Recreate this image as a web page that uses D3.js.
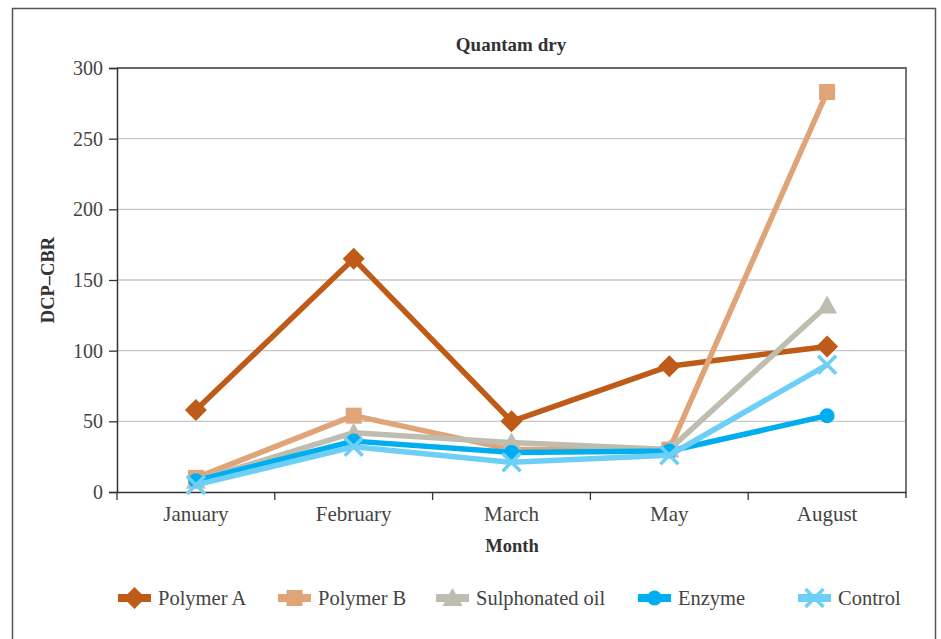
<!DOCTYPE html>
<html>
<head>
<meta charset="utf-8">
<script src="https://cdn.jsdelivr.net/npm/d3@7"></script>
<style>
  body { margin: 0; background: #fff; }
  text { font-family: "Liberation Serif", "DejaVu Serif", serif; }
</style>
</head>
<body>
<svg width="941" height="639"></svg>
<script>
var months = ["January", "February", "March", "May", "August"];
var seriesNames = ["Polymer A", "Polymer B", "Sulphonated oil", "Enzyme", "Control"];
var polymerA = [58, 165, 50, 89, 103];
var polymerB = [10, 54, 30, 30, 283];
var sulphonated = [8, 42, 35, 30, 132];
var enzyme = [8, 36, 28, 29, 54];
var control = [5, 32, 21, 26, 90];
var yTicks = [0, 50, 100, 150, 200, 250, 300];

var colors = ["#bf5b18", "#dfa477", "#bfbdb0", "#00aeef", "#6dcff6"];
var symbols = ["diamond", "square", "triangle", "circle", "cross"];

var svg = d3.select("svg"),
    margin = {top: 68, right: 35, bottom: 147, left: 117},
    width = 941 - margin.left - margin.right,
    height = 639 - margin.top - margin.bottom;

// outer frame
svg.append("rect")
  .attr("x", 12.5).attr("y", 8.5)
  .attr("width", 923).attr("height", 650)
  .attr("fill", "none").attr("stroke", "#555").attr("stroke-width", 1.5);

var g = svg.append("g").attr("transform", "translate(" + margin.left + "," + margin.top + ")");

var x = d3.scaleBand().domain(months).range([0, width]);
var y = d3.scaleLinear().domain([0, 300]).range([height, 0]);

// grid
g.selectAll(".grid").data(yTicks.slice(1, -1)).enter().append("line")
  .attr("x1", 0).attr("x2", width)
  .attr("y1", d => y(d)).attr("y2", d => y(d))
  .attr("stroke", "#c6c6c6").attr("stroke-width", 1.3);

// top and right border
g.append("path")
  .attr("d", "M0," + y(300) + "H" + width + "V" + (height + 6))
  .attr("fill", "none").attr("stroke", "#666").attr("stroke-width", 1.8);

// y axis
var yAxis = g.append("g")
  .call(d3.axisLeft(y).tickValues(yTicks).tickSize(8).tickPadding(6));
yAxis.select(".domain").attr("stroke", "#333").attr("stroke-width", 1.5);
yAxis.selectAll(".tick line").attr("stroke", "#333").attr("stroke-width", 1.3);
yAxis.selectAll("text")
  .style("font-family", "'Liberation Serif', serif")
  .style("font-size", "20px").attr("fill", "#444");

// x axis
var xAxis = g.append("g").attr("transform", "translate(0," + height + ")")
  .call(d3.axisBottom(x).tickSize(0).tickPadding(14));
xAxis.select(".domain").attr("stroke", "#333").attr("stroke-width", 1.5);
xAxis.selectAll("text")
  .style("font-family", "'Liberation Serif', serif")
  .style("font-size", "21px").attr("fill", "#444");
var bounds = months.map(m => x(m)).concat([width]);
g.selectAll(".xtick").data(bounds.slice(0, -1)).enter().append("line")
  .attr("x1", d => d).attr("x2", d => d)
  .attr("y1", height).attr("y2", height + 8)
  .attr("stroke", "#333").attr("stroke-width", 1.3);

// titles
svg.append("text").attr("x", 511).attr("y", 51)
  .attr("text-anchor", "middle").attr("font-weight", "bold")
  .attr("font-size", 19).attr("fill", "#333").text("Quantam dry");
svg.append("text").attr("transform", "translate(54,280) rotate(-90)")
  .attr("text-anchor", "middle").attr("font-weight", "bold")
  .attr("font-size", 18.5).attr("fill", "#333").text("DCP–CBR");
svg.append("text").attr("x", 512).attr("y", 552)
  .attr("text-anchor", "middle").attr("font-weight", "bold")
  .attr("font-size", 18.5).attr("fill", "#333").text("Month");

var allSeries = [polymerA, polymerB, sulphonated, enzyme, control];
var line = d3.line().x((d, i) => x(months[i]) + x.bandwidth() / 2).y(d => y(d));

function marker(sel, k, cx, cy) {
  var c = colors[k];
  if (symbols[k] == "diamond") {
    sel.append("path").attr("d", "M" + cx + "," + (cy - 11) + "L" + (cx + 11) + "," + cy + "L" + cx + "," + (cy + 11) + "L" + (cx - 11) + "," + cy + "Z").attr("fill", c);
  } else if (symbols[k] == "square") {
    sel.append("rect").attr("x", cx - 8).attr("y", cy - 8).attr("width", 16).attr("height", 16).attr("fill", c);
  } else if (symbols[k] == "triangle") {
    sel.append("path").attr("d", "M" + cx + "," + (cy - 10) + "L" + (cx + 10) + "," + (cy + 8) + "L" + (cx - 10) + "," + (cy + 8) + "Z").attr("fill", c);
  } else if (symbols[k] == "circle") {
    sel.append("circle").attr("cx", cx).attr("cy", cy).attr("r", 7.5).attr("fill", c);
  } else {
    sel.append("path").attr("d", "M" + (cx - 9) + "," + (cy - 9) + "L" + (cx + 9) + "," + (cy + 9) + "M" + (cx + 9) + "," + (cy - 9) + "L" + (cx - 9) + "," + (cy + 9))
      .attr("stroke", c).attr("stroke-width", 3.5).attr("fill", "none");
  }
}

allSeries.forEach(function(vals, k) {
  var sg = g.append("g");
  sg.append("path").datum(vals).attr("d", line)
    .attr("fill", "none").attr("stroke", colors[k]).attr("stroke-width", 5.5)
    .attr("stroke-linejoin", "round");
  vals.forEach(function(v, i) {
    marker(sg, k, x(months[i]) + x.bandwidth() / 2, y(v));
  });
});

// legend
var legendX = [118, 278, 436, 638, 798];
var leg = svg.append("g").attr("transform", "translate(0,598)");
seriesNames.forEach(function(name, k) {
  var lx = legendX[k];
  leg.append("line").attr("x1", lx).attr("x2", lx + 33).attr("y1", 0).attr("y2", 0)
    .attr("stroke", colors[k]).attr("stroke-width", 8);
  marker(leg, k, lx + 16.5, 0);
  leg.append("text").attr("x", lx + 40).attr("y", 7)
    .attr("font-size", 20.5).attr("fill", "#444").text(name);
});
</script>
</body>
</html>
